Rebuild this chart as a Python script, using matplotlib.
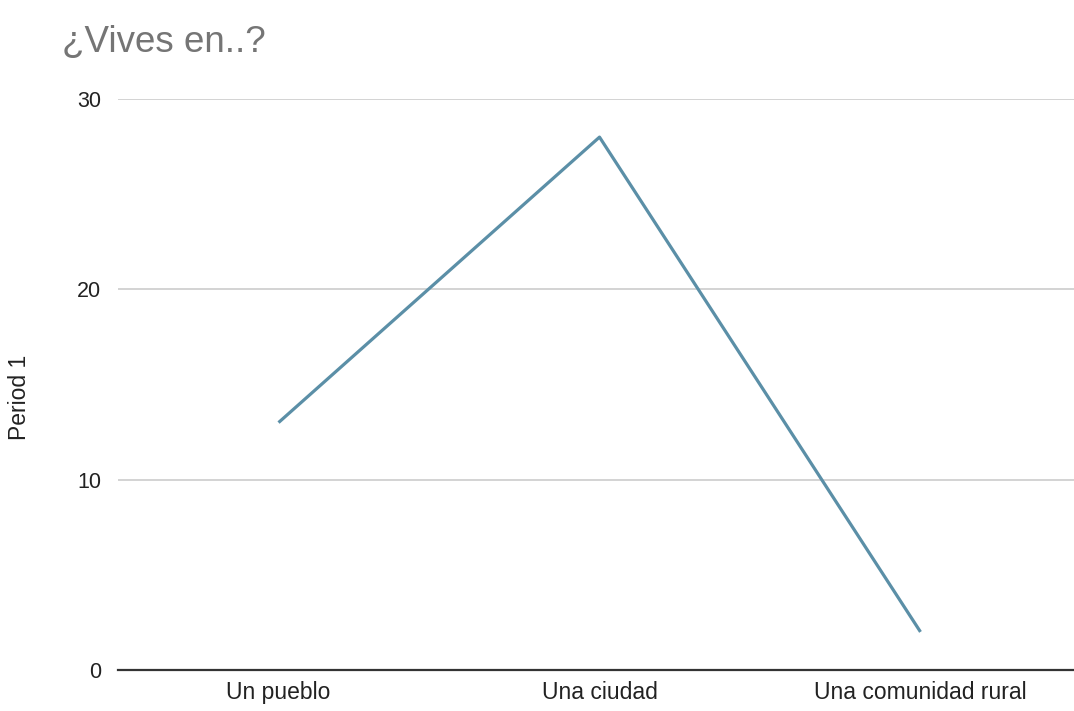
import matplotlib
matplotlib.use("Agg")
import matplotlib.pyplot as plt

categories = ["Un pueblo", "Una ciudad", "Una comunidad rural"]
values = [13, 28, 2]
yticks = [0, 10, 20, 30]

plt.rcParams['font.family'] = ['Liberation Sans', 'DejaVu Sans']

fig = plt.figure(figsize=(10.74, 7.11), dpi=100)
ax = fig.add_axes([0.1099, 0.0577, 0.8966, 0.803])

x = list(range(len(categories)))
ax.plot(x, values, color="#5b8fa7", linewidth=2.3, solid_capstyle="butt")

ax.set_xlim(-0.5, len(categories) - 0.5)
ax.set_ylim(0, 30)
ax.set_yticks(yticks)
ax.set_yticklabels([str(v) for v in yticks])
ax.set_xticks(x)
ax.set_xticklabels(categories)

ax.grid(axis="y", color="#cccccc", linewidth=1.2)
ax.set_axisbelow(True)
for side in ["top", "right", "left"]:
    ax.spines[side].set_visible(False)
ax.spines["bottom"].set_color("#333333")
ax.spines["bottom"].set_linewidth(1.6)
ax.spines["bottom"].set_zorder(3)

ax.tick_params(axis="y", length=0, labelsize=15.5, colors="#222222", pad=12)
ax.tick_params(axis="x", length=0, labelsize=16.5, colors="#222222", pad=8)

fig.text(19 / 1074, 1 - 397 / 711, "Period 1", rotation=90, fontsize=16.5,
         color="#222222", ha="center", va="center")

fig.text(0.058, 0.94, "¿Vives en..?", fontsize=26.5, color="#757575",
         ha="left", va="center")

fig.savefig("out.png", dpi=100)
